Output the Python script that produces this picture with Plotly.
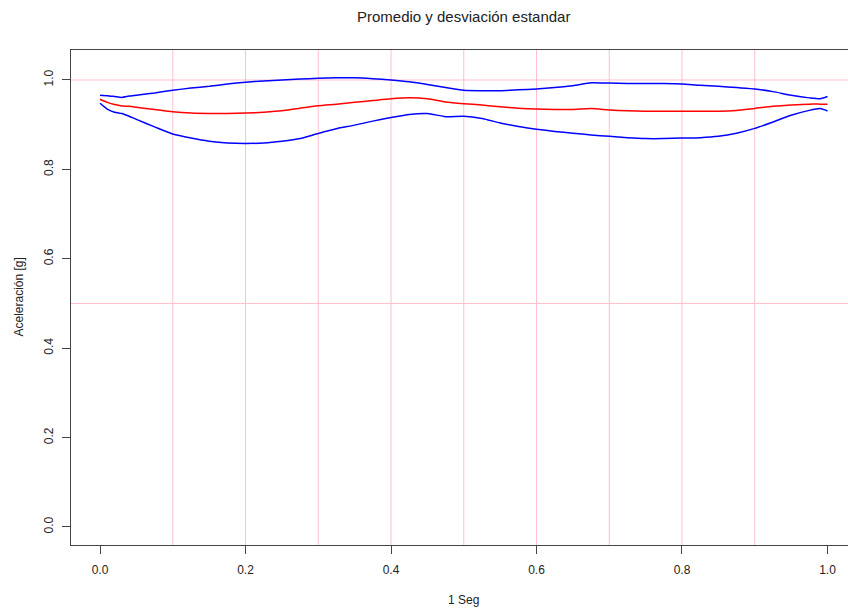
import plotly.graph_objects as go

# Time within one second (s) and acceleration statistics (g)
t = [0.00, 0.01, 0.02, 0.03, 0.04, 0.05, 0.075, 0.10, 0.125, 0.15, 0.175,
     0.20, 0.225, 0.25, 0.275, 0.30, 0.325, 0.35, 0.375, 0.40, 0.425, 0.45,
     0.475, 0.50, 0.525, 0.55, 0.575, 0.60, 0.625, 0.65, 0.675, 0.70, 0.725,
     0.75, 0.775, 0.80, 0.825, 0.85, 0.875, 0.90, 0.925, 0.95, 0.975, 0.99, 1.00]

upper = [0.966, 0.965, 0.963, 0.961, 0.964, 0.966, 0.971, 0.977, 0.982, 0.986, 0.991,
         0.995, 0.998, 1.000, 1.002, 1.004, 1.005, 1.005, 1.003, 1.000, 0.996, 0.990,
         0.983, 0.977, 0.976, 0.976, 0.978, 0.980, 0.983, 0.987, 0.994, 0.993, 0.992,
         0.992, 0.992, 0.991, 0.988, 0.986, 0.983, 0.980, 0.974, 0.966, 0.960, 0.958, 0.963]

mean = [0.957, 0.950, 0.945, 0.942, 0.941, 0.939, 0.934, 0.929, 0.926, 0.925, 0.925,
        0.926, 0.928, 0.931, 0.937, 0.9425, 0.946, 0.950, 0.954, 0.958, 0.960, 0.958,
        0.951, 0.947, 0.944, 0.940, 0.937, 0.935, 0.934, 0.934, 0.936, 0.933, 0.931,
        0.930, 0.930, 0.930, 0.930, 0.930, 0.932, 0.9365, 0.941, 0.944, 0.946, 0.946, 0.946]

lower = [0.948, 0.935, 0.928, 0.925, 0.919, 0.912, 0.895, 0.879, 0.870, 0.863, 0.859,
         0.858, 0.859, 0.863, 0.869, 0.8805, 0.891, 0.899, 0.908, 0.916, 0.923, 0.925,
         0.918, 0.919, 0.914, 0.904, 0.896, 0.890, 0.885, 0.881, 0.877, 0.874, 0.871,
         0.869, 0.869, 0.870, 0.871, 0.874, 0.881, 0.8917, 0.906, 0.921, 0.932, 0.936, 0.9306]

x_ticks = [0.0, 0.2, 0.4, 0.6, 0.8, 1.0]
y_ticks = [0.0, 0.2, 0.4, 0.6, 0.8, 1.0]
v_grid = [0.1, 0.2, 0.3, 0.4, 0.5, 0.6, 0.7, 0.8, 0.9]
h_grid = [0.5, 1.0]

FONT = "Liberation Sans, Arial, sans-serif"
AXIS_COL = "#444444"
GRID_COL = "#FFC0CB"

fig = go.Figure()
for ys, col in [(upper, "#0000FF"), (lower, "#0000FF"), (mean, "#FF0000")]:
    fig.add_trace(go.Scatter(x=t, y=ys, mode="lines",
                             line=dict(color=col, width=1.5, shape="spline", smoothing=0.6),
                             showlegend=False, hoverinfo="skip"))

shapes = []
for gx in v_grid:
    shapes.append(dict(type="line", xref="x", yref="paper", x0=gx, x1=gx, y0=0, y1=1,
                       line=dict(color=GRID_COL, width=1), layer="below"))
for gy in h_grid:
    shapes.append(dict(type="line", xref="paper", yref="y", x0=0, x1=1, y0=gy, y1=gy,
                       line=dict(color=GRID_COL, width=1), layer="below"))

fig.update_layout(
    width=848, height=611,
    margin=dict(l=71, r=0, t=50, b=66),
    paper_bgcolor="white", plot_bgcolor="white",
    font=dict(family=FONT, size=12, color="#222222"),
    shapes=shapes,
    xaxis=dict(range=[-0.0399, 1.0282], tickvals=x_ticks, tickformat=".1f",
               showgrid=False, zeroline=False, showline=True, mirror=True,
               linecolor=AXIS_COL, linewidth=1, ticks="outside", ticklen=8,
               tickcolor=AXIS_COL, tickfont=dict(size=12, color="#222222"),
               ticklabelstandoff=6),
    yaxis=dict(range=[-0.0403, 1.0671], tickvals=y_ticks, tickformat=".1f",
               showgrid=False, zeroline=False, showline=True, mirror=False,
               linecolor=AXIS_COL, linewidth=1, ticks="outside", ticklen=8,
               tickcolor=AXIS_COL, tickangle=-90, tickfont=dict(size=12, color="#222222"),
               ticklabelstandoff=4),
    annotations=[
        dict(text="Promedio y desviación estandar", xref="x", yref="paper", x=0.5, y=1.0667,
             xanchor="center", yanchor="middle", showarrow=False,
             font=dict(size=15, color="#222222", family=FONT)),
        dict(text="1 Seg", xref="x", yref="paper", x=0.5, y=-0.111,
             xanchor="center", yanchor="middle", showarrow=False,
             font=dict(size=12, color="#222222", family=FONT)),
        dict(text="Aceleración [g]", xref="paper", yref="paper", x=-0.0682, y=0.5,
             xanchor="center", yanchor="middle", textangle=-90, showarrow=False,
             font=dict(size=12, color="#222222", family=FONT)),
    ],
)

fig.write_html("out.html")
